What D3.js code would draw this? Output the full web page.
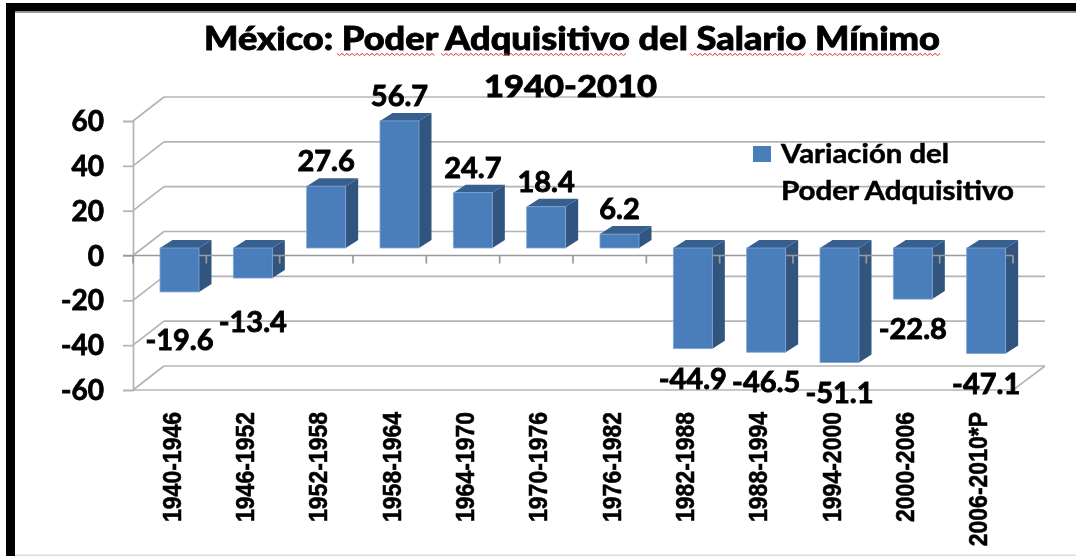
<!DOCTYPE html>
<html><head><meta charset="utf-8">
<script src="https://cdnjs.cloudflare.com/ajax/libs/d3/7.8.5/d3.min.js"></script>
<style>html,body{margin:0;padding:0;background:#fff}svg{display:block}</style>
</head><body><svg id="c" width="1076" height="556"></svg>
<script>
const periods = ["1940-1946","1946-1952","1952-1958","1958-1964","1964-1970","1970-1976","1976-1982","1982-1988","1988-1994","1994-2000","2000-2006","2006-2010*P"];
const variation = [-19.6,-13.4,27.6,56.7,24.7,18.4,6.2,-44.9,-46.5,-51.1,-22.8,-47.1];
const yTicks = [-60,-40,-20,0,20,40,60];
const titleText = "México: Poder Adquisitivo del Salario Mínimo";
const subtitleText = "1940-2010";
const legendLines = ["Variación del","Poder Adquisitivo"];

const svg = d3.select("#c");
const defs = svg.append("defs");
defs.append("filter").attr("id","soft").attr("x","-5%").attr("y","-5%").attr("width","110%").attr("height","110%")
  .append("feGaussianBlur").attr("stdDeviation",0.65);
const root = svg.append("g").attr("filter","url(#soft)");

const x = d3.scaleBand().domain(periods).range([133,1013]);
const y = d3.scaleLinear().domain([-60,60]).range([390,121]);
const wallDx = 31, wallDy = -24, wallEnd = 1045;
const barDx = 9.5, barDy = -7.5, barInset = 17.5, barW = 39, depthX = 12.5, depthY = -8;
const GRID = "#b4b4b4", FRONT = "#4a7ebb", SIDE = "#31557f", TOP = "#37608f";

// frame
root.append("rect").attr("x",6).attr("y",3).attr("width",1075).attr("height",8.5).attr("fill","#000");
root.append("rect").attr("x",6).attr("y",3).attr("width",9).attr("height",560).attr("fill","#000");
root.append("rect").attr("x",15).attr("y",11.5).attr("width",1066).attr("height",1.5).attr("fill","#999");
root.append("rect").attr("x",15).attr("y",554.5).attr("width",1066).attr("height",1.5).attr("fill","#ddd");

// walls
const grid = root.append("g").attr("stroke",GRID).attr("stroke-width",1.7).attr("fill","none");
yTicks.forEach(t=>{
  const yy = y(t);
  grid.append("line").attr("x1",x.range()[0]).attr("y1",yy).attr("x2",x.range()[0]+wallDx).attr("y2",yy+wallDy);
  grid.append("line").attr("x1",x.range()[0]+wallDx).attr("y1",yy+wallDy).attr("x2",wallEnd).attr("y2",yy+wallDy);
});
grid.append("line").attr("x1",x.range()[1]).attr("y1",y(-60)).attr("x2",wallEnd).attr("y2",y(-60)+wallDy);
grid.append("line").attr("x1",x.range()[0]).attr("y1",y(-60)).attr("x2",x.range()[1]).attr("y2",y(-60));

// y axis
const yAxis = d3.axisLeft(y).tickValues(yTicks).tickSize(10).tickPadding(19).tickFormat(d=>String(d));
const yG = root.append("g").attr("transform","translate(133,0)").call(yAxis);
yG.select(".domain").attr("stroke",GRID).attr("stroke-width",1.7);
yG.selectAll(".tick line").attr("stroke",GRID).attr("stroke-width",1.7);
yG.selectAll(".tick text").attr("font-family","Lato").attr("font-weight",700).attr("font-size",28)
  .attr("fill","#000").attr("stroke","#000").attr("stroke-width",0.8).attr("dy","0.34em");

// bars: back faces first
const bx = d => x(d.p)+barDx+barInset;
const baseY = y(0)+barDy;
const hi = d => Math.min(y(d.v)+barDy, baseY);
const lo = d => Math.max(y(d.v)+barDy, baseY);
const rows = periods.map((p,i)=>({p,v:variation[i]}));
const bars = root.append("g");
bars.selectAll("path.side").data(rows).join("path").attr("class","side").attr("fill",SIDE)
  .attr("d",d=>{const a=bx(d)+barW;return d3.line()([[a,hi(d)],[a+depthX,hi(d)+depthY],[a+depthX,lo(d)+depthY],[a,lo(d)]])+"Z";});
bars.selectAll("path.top").data(rows).join("path").attr("class","top").attr("fill",TOP)
  .attr("d",d=>{const a=bx(d);return d3.line()([[a,hi(d)],[a+depthX,hi(d)+depthY],[a+barW+depthX,hi(d)+depthY],[a+barW,hi(d)]])+"Z";});

// category axis, over the side faces, under the front faces
const xAxisLine = root.append("g").attr("stroke","#9a9a9a").attr("stroke-width",1.7);
xAxisLine.append("line").attr("x1",123).attr("x2",x.range()[1]).attr("y1",y(0)).attr("y2",y(0));
[...periods.map(p=>x(p)),x.range()[1]].forEach(v=>{
  xAxisLine.append("line").attr("x1",v).attr("x2",v).attr("y1",y(0)).attr("y2",y(0)+8);
});

const fronts = root.append("g");
fronts.selectAll("rect").data(rows).join("rect").attr("fill",FRONT).attr("stroke","#7fa6d6").attr("stroke-width",0.8)
  .attr("x",bx).attr("y",hi).attr("width",barW).attr("height",d=>lo(d)-hi(d));

// value labels
const extraDrop = {"1940-1946":18,"1946-1952":14};
root.append("g").selectAll("text").data(rows).join("text")
  .attr("x",d=>bx(d)+barW/2).attr("y",d=>d.v>=0 ? hi(d)-25 : lo(d)+30+(extraDrop[d.p]||0))
  .attr("dy","0.35em").attr("text-anchor","middle")
  .attr("font-family","Lato").attr("font-weight",700).attr("font-size",29).attr("fill","#000")
  .attr("stroke","#000").attr("stroke-width",0.9)
  .text(d=>d3.format(".1f")(d.v).replace("−","-"));

// category labels
root.append("g").selectAll("text").data(periods).join("text")
  .attr("transform",d=>`translate(${x(d)+x.bandwidth()/2+11},412) rotate(-90) scale(1,1.14)`)
  .attr("text-anchor","end").attr("font-family","Liberation Sans").attr("font-weight",700).attr("font-size",23).attr("fill","#000")
  .attr("stroke","#000").attr("stroke-width",0.5)
  .text(d=>d);

// titles
root.append("text").attr("x",204).attr("y",50).attr("textLength",736).attr("lengthAdjust","spacingAndGlyphs").attr("font-family","Lato").attr("font-weight",900)
  .attr("font-size",32).attr("fill","#000").attr("stroke","#000").attr("stroke-width",0.8).text(titleText);
const wave = (a,b,yy)=>{const pts=d3.range(a,b+.1,2.5).map((v,i)=>[v,yy+(i%2?1.1:-1.1)]);return d3.line()(pts);};
[[337,435],[441,628],[690,805],[810,940]].forEach(([a,b])=>{
  root.append("path").attr("d",wave(a,b,54.5)).attr("fill","none").attr("stroke","#e03030").attr("stroke-width",1);
});
root.append("text").attr("x",484).attr("y",97).attr("textLength",173).attr("lengthAdjust","spacingAndGlyphs").attr("font-family","Lato").attr("font-weight",900)
  .attr("font-size",31).attr("fill","#000").attr("stroke","#000").attr("stroke-width",0.8).text(subtitleText);

// legend
root.append("rect").attr("x",753).attr("y",146).attr("width",18).attr("height",16).attr("fill",FRONT);
root.append("g").selectAll("text").data(legendLines).join("text")
  .attr("x",781).attr("y",(d,i)=>163+i*37).attr("textLength",(d,i)=>[168,233][i]).attr("lengthAdjust","spacingAndGlyphs")
  .attr("font-family","Lato").attr("font-weight",700).attr("font-size",26)
  .attr("fill","#000").attr("stroke","#000").attr("stroke-width",0.5).text(d=>d);
</script></body></html>
